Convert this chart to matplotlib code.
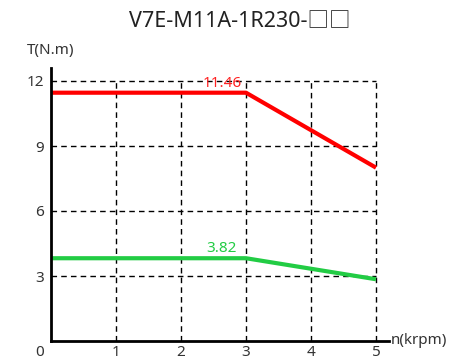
import matplotlib.pyplot as plt

plt.rcParams['font.family'] = ['Noto Sans', 'Noto Sans CJK JP', 'DejaVu Sans']

# data
title = 'V7E-M11A-1R230-□□'
speed = [0, 3, 5]
torque_max = [11.46, 11.46, 8.0]
torque_rated = [3.82, 3.82, 2.85]
xticks = [1, 2, 3, 4, 5]
yticks = [3, 6, 9, 12]

fig = plt.figure(figsize=(4.77, 3.61), dpi=100)
ax = fig.add_axes([51/477, 20/361, 338/477, 273/361])
ax.set_xlim(0, 5.2)
ax.set_ylim(0, 12.6)

# dashed grid
ax.hlines(yticks, 0, 5, colors='black', linestyles=(0, (4, 3)), lw=1)
ax.vlines(xticks, 0, 12, colors='black', linestyles=(0, (4, 3)), lw=1)

ax.plot(speed, torque_max, color='#ff0000', lw=3, solid_capstyle='butt')
ax.plot(speed, torque_rated, color='#22cc44', lw=3, solid_capstyle='butt')

ax.text(2.63, torque_max[1] + 0.1, '%.2f' % torque_max[1], color='#ff2020',
        fontsize=11, ha='center', va='bottom')
ax.text(2.63, torque_rated[1] + 0.1, '%.2f' % torque_rated[1], color='#22cc44',
        fontsize=11, ha='center', va='bottom')

for s in ['top', 'right']:
    ax.spines[s].set_visible(False)
for s in ['left', 'bottom']:
    ax.spines[s].set_linewidth(2)
    ax.spines[s].set_color('black')

ax.set_xticks(xticks)
ax.set_yticks(yticks)
ax.tick_params(length=0, labelsize=11, labelcolor='#333333')
ax.tick_params(axis='x', pad=3)
ax.tick_params(axis='y', pad=5)
ax.text(-0.17, -0.55, '0', fontsize=11, color='#333333', ha='center', va='center')

ax.text(5.22, 0, 'n(krpm)', fontsize=11, color='#333333', ha='left', va='center')
ax.text(0.0, 13.4, 'T(N.m)', fontsize=11, color='#333333', ha='center', va='center')

fig.text(0.503, 0.94, title, fontsize=15.5, color='#222222', ha='center', va='center')

fig.savefig('out.png', dpi=100)
